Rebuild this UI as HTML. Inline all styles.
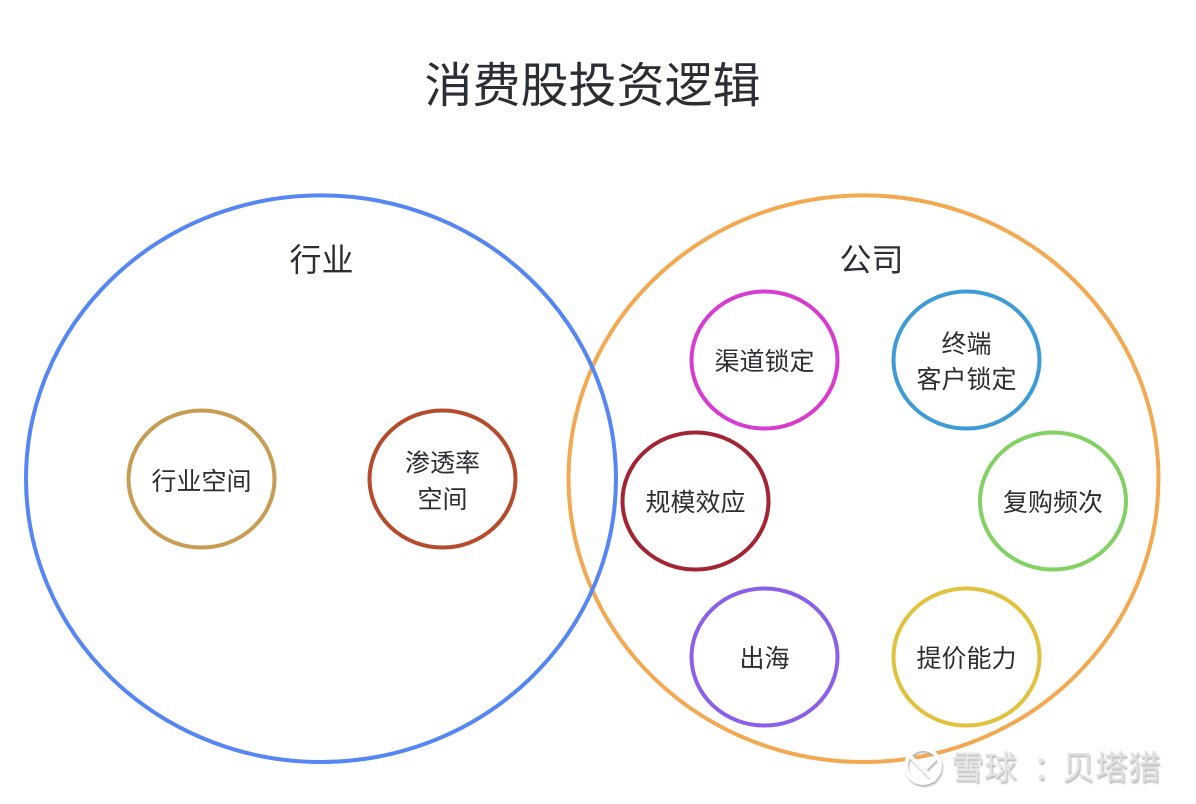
<!DOCTYPE html>
<html lang="zh">
<head>
<meta charset="utf-8">
<title>消费股投资逻辑</title>
<style>
html,body{margin:0;padding:0;background:#fff;width:1196px;height:804px;overflow:hidden}
svg{display:block}
text{font-family:"Liberation Sans","Noto Sans CJK SC",sans-serif;fill:#2b2f33;text-anchor:middle}
.n{font-size:25px}
.g{font-size:32px}
.w{font-size:33px;text-anchor:start}
</style>
</head>
<body>
<svg width="1196" height="804" viewBox="0 0 1196 804" xmlns="http://www.w3.org/2000/svg">
<defs>
<filter id="s" x="-10%" y="-20%" width="120%" height="140%">
<feDropShadow dx="1" dy="2" stdDeviation="0.800" flood-color="#a8a8a8" flood-opacity="0.800"/>
</filter>
</defs>
<rect width="1196" height="804" fill="#fff"/>
<text x="592.500" y="102" style="font-size:48px">消费股投资逻辑</text>

<g fill="none" stroke-width="4">
<ellipse cx="863.500" cy="478.700" rx="295" ry="283.300" stroke="#f3a952"/>
<ellipse cx="321" cy="478.700" rx="295" ry="283.300" stroke="#5586f3"/>
<ellipse cx="201.500" cy="479" rx="73" ry="68.500" stroke="#c99c54"/>
<ellipse cx="442.500" cy="479" rx="73" ry="68.500" stroke="#b54b2b"/>
<ellipse cx="764.500" cy="360" rx="73" ry="68.500" stroke="#d83ccf"/>
<ellipse cx="966.500" cy="360" rx="73" ry="68.500" stroke="#3f9bd6"/>
<ellipse cx="695.500" cy="501" rx="73" ry="68.500" stroke="#a32433"/>
<ellipse cx="1053" cy="501" rx="73" ry="68.500" stroke="#82d162"/>
<ellipse cx="764.500" cy="657" rx="73" ry="68.500" stroke="#8c5fe8"/>
<ellipse cx="966.500" cy="657" rx="73" ry="68.500" stroke="#e0c23c"/>
</g>

<text class="g" x="321.500" y="271">行业</text>
<text class="g" x="871.500" y="271">公司</text>

<text class="n" x="201.500" y="490">行业空间</text>
<text class="n" x="442.500" y="471.500">渗透率</text>
<text class="n" x="442.500" y="508">空间</text>
<text class="n" x="764.500" y="370">渠道锁定</text>
<text class="n" x="966.500" y="352.500">终端</text>
<text class="n" x="966.500" y="388">客户锁定</text>
<text class="n" x="695.500" y="511">规模效应</text>
<text class="n" x="1053" y="511">复购频次</text>
<text class="n" x="764.500" y="667">出海</text>
<text class="n" x="966.500" y="667">提价能力</text>

<!-- watermark -->
<g filter="url(#s)">
<g fill="none" stroke="#fff" stroke-width="4">
<circle cx="923" cy="766" r="17"/>
<path d="M911 757 L925 771 M938 756 L924 770 L935 781"/>
</g>
<text class="w" x="951" y="779" style="fill:#e4e4e4">雪球</text>
<text class="w" x="1033" y="779" style="fill:#e4e4e4">：</text>
<text class="w" x="1062" y="779" style="fill:#e0e0e0">贝塔猎</text>
</g>
</svg>
</body>
</html>
